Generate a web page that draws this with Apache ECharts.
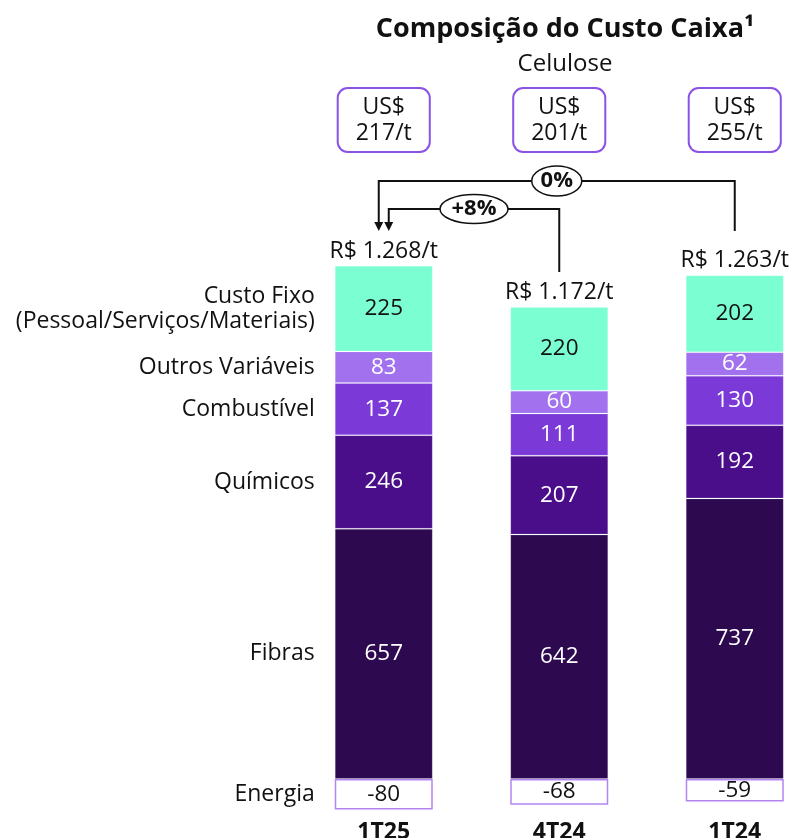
<!DOCTYPE html>
<html>
<head>
<meta charset="utf-8">
<script src="https://cdn.jsdelivr.net/npm/echarts@6/dist/echarts.min.js"></script>
<style>
  html, body { margin: 0; padding: 0; background: #ffffff; }
  #chart { width: 792px; height: 838px; }
</style>
</head>
<body>
<div id="chart"></div>
<script>
// Periods (x axis)
const categories = ['1T25', '4T24', '1T24'];

// Cost components, R$/t
const energia = [-80, -68, -59];
const fibras = [657, 642, 737];
const quimicos = [246, 207, 192];
const combustivel = [137, 111, 130];
const outrosVariaveis = [83, 60, 62];
const custoFixo = [225, 220, 202];

// Reported total cash cost, R$/t
const totais = [1268, 1172, 1263];
// Pulp cash cost in US$/t
const celuloseUsd = [217, 201, 255];

// Comparisons drawn as connectors: [from category, to category, text]
const comparacoes = [
  ['1T24', '1T25', '0%'],
  ['4T24', '1T25', '+8%']
];

const FONT = '"Open Sans", "Noto Sans", sans-serif';

const componentes = [
  { nome: 'Energia', dados: energia, cor: '#ffffff', texto: '#111111' },
  { nome: 'Fibras', dados: fibras, cor: '#2d0950', texto: '#ffffff' },
  { nome: 'Químicos', dados: quimicos, cor: '#4a0e8b', texto: '#ffffff' },
  { nome: 'Combustível', dados: combustivel, cor: '#7b3ad7', texto: '#ffffff' },
  { nome: 'Outros Variáveis', dados: outrosVariaveis, cor: '#a171ee', texto: '#ffffff' },
  { nome: 'Custo Fixo\n(Pessoal/Serviços/Materiais)', dados: custoFixo, cor: '#7bffd2', texto: '#111111' }
];

const BAR_W = 98;

// Visible stacked bars with the value inside each segment
const barras = componentes.map(c => ({
  type: 'bar',
  name: c.nome,
  stack: 'custo',
  barWidth: BAR_W,
  barGap: '-100%',
  data: c.dados,
  itemStyle: c.nome === 'Energia'
    ? { color: '#ffffff', borderColor: '#b285f2', borderWidth: 1.5 }
    : { color: c.cor, borderColor: 'rgba(255,255,255,0.15)', borderWidth: 1 },
  label: {
    show: true,
    position: 'inside',
    color: c.texto,
    fontFamily: FONT,
    fontSize: 22.5,
    formatter: p => String(p.value)
  },
  emphasis: { disabled: true },
  z: 2
}));

// Transparent twin stack: carries the component names left of the first bar
const nomes = componentes.map(c => ({
  type: 'bar',
  name: c.nome + '-nome',
  stack: 'nomes',
  barWidth: BAR_W,
  barGap: '-100%',
  data: c.dados.map((v, i) => ({
    value: v,
    label: { show: i === 0 }
  })),
  itemStyle: { color: 'rgba(0,0,0,0)' },
  label: {
    position: 'left',
    distance: 20,
    color: '#111111',
    fontFamily: FONT,
    fontSize: 23,
    lineHeight: 25,
    align: 'right',
    formatter: () => c.nome
  },
  silent: true,
  z: 1
}));

// Height of the positive part of each stack, used to place the total label
const topoPositivo = categories.map((_, i) =>
  componentes.reduce((s, c) => s + Math.max(c.dados[i], 0), 0));

const totalSerie = {
  type: 'bar',
  name: 'total',
  stack: 'totais',
  barWidth: BAR_W,
  barGap: '-100%',
  data: topoPositivo,
  itemStyle: { color: 'rgba(0,0,0,0)' },
  label: {
    show: true,
    position: 'top',
    distance: 3,
    color: '#111111',
    fontFamily: FONT,
    fontSize: 23,
    formatter: p => 'R$ ' + totais[p.dataIndex].toLocaleString('de-DE') + '/t'
  },
  silent: true,
  z: 1
};

const chart = echarts.init(document.getElementById('chart'), null, { renderer: 'canvas' });

chart.setOption({
  animation: false,
  backgroundColor: '#ffffff',
  title: {
    text: 'Composição do Custo Caixa¹',
    subtext: 'Celulose',
    left: 560,
    top: 11,
    textAlign: 'center',
    itemGap: 9,
    textStyle: { fontFamily: FONT, fontWeight: 'bold', fontSize: 27, color: '#111111' },
    subtextStyle: { fontFamily: FONT, fontSize: 24, color: '#111111' }
  },
  grid: {
    left: 296,
    top: 246,
    width: 526.5,
    height: 571,
    containLabel: false,
    outerBoundsMode: 'none'
  },
  xAxis: [
    {
      type: 'category',
      data: categories,
      position: 'bottom',
      axisLine: { show: false },
      axisTick: { show: false },
      axisLabel: {
        margin: 4,
        fontFamily: FONT,
        fontWeight: 'bold',
        fontSize: 23,
        color: '#111111'
      }
    },
    {
      type: 'category',
      data: categories,
      position: 'top',
      axisLine: { show: false },
      axisTick: { show: false },
      axisLabel: {
        margin: 95,
        fontFamily: FONT,
        fontSize: 23,
        lineHeight: 26,
        color: '#111111',
        borderColor: '#8b52e6',
        borderWidth: 2,
        borderRadius: 9,
        padding: [5, 17],
        backgroundColor: '#ffffff',
        formatter: (v, i) => 'US$\n' + celuloseUsd[i] + '/t'
      }
    }
  ],
  yAxis: {
    type: 'value',
    min: -100,
    max: 1400,
    show: false,
    splitLine: { show: false }
  },
  series: [...barras, ...nomes, totalSerie]
});

// Comparison connectors between total labels
function desenharConectores() {
  const xDe = c => chart.convertToPixel({ xAxisIndex: 0 }, c);
  const niveis = [181, 209];         // heights of the horizontal runs
  const fimVertical = [231, 272];    // lower end of the source leg
  const deslocSeta = [-5, 5];        // arrow offsets around the target bar centre
  const raios = [[25, 15], [34, 14.5]];
  const elementos = [];
  comparacoes.forEach((cmp, k) => {
    const xa = xDe(cmp[0]);
    const xb = xDe(cmp[1]) + deslocSeta[k];
    const y = niveis[k];
    const pontaY = 231;
    elementos.push({
      type: 'polyline',
      shape: { points: [[xa, fimVertical[k]], [xa, y], [xb, y], [xb, pontaY - 8]] },
      style: { stroke: '#111111', lineWidth: 2, fill: null },
      z: 10
    });
    elementos.push({
      type: 'polygon',
      shape: { points: [[xb - 4.5, pontaY - 9], [xb + 4.5, pontaY - 9], [xb, pontaY]] },
      style: { fill: '#111111' },
      z: 10
    });
    const cx = (xa + xb) / 2;
    elementos.push({
      type: 'ellipse',
      shape: { cx: cx, cy: y, rx: raios[k][0], ry: raios[k][1] },
      style: { fill: '#ffffff', stroke: '#111111', lineWidth: 1.5 },
      z: 11
    });
    elementos.push({
      type: 'text',
      x: cx,
      y: y,
      style: {
        text: cmp[2],
        fontFamily: FONT,
        fontWeight: 'bold',
        fontSize: 22,
        fill: '#111111',
        align: 'center',
        verticalAlign: 'middle'
      },
      z: 12
    });
  });
  chart.setOption({ graphic: elementos });
}
desenharConectores();
</script>
</body>
</html>
